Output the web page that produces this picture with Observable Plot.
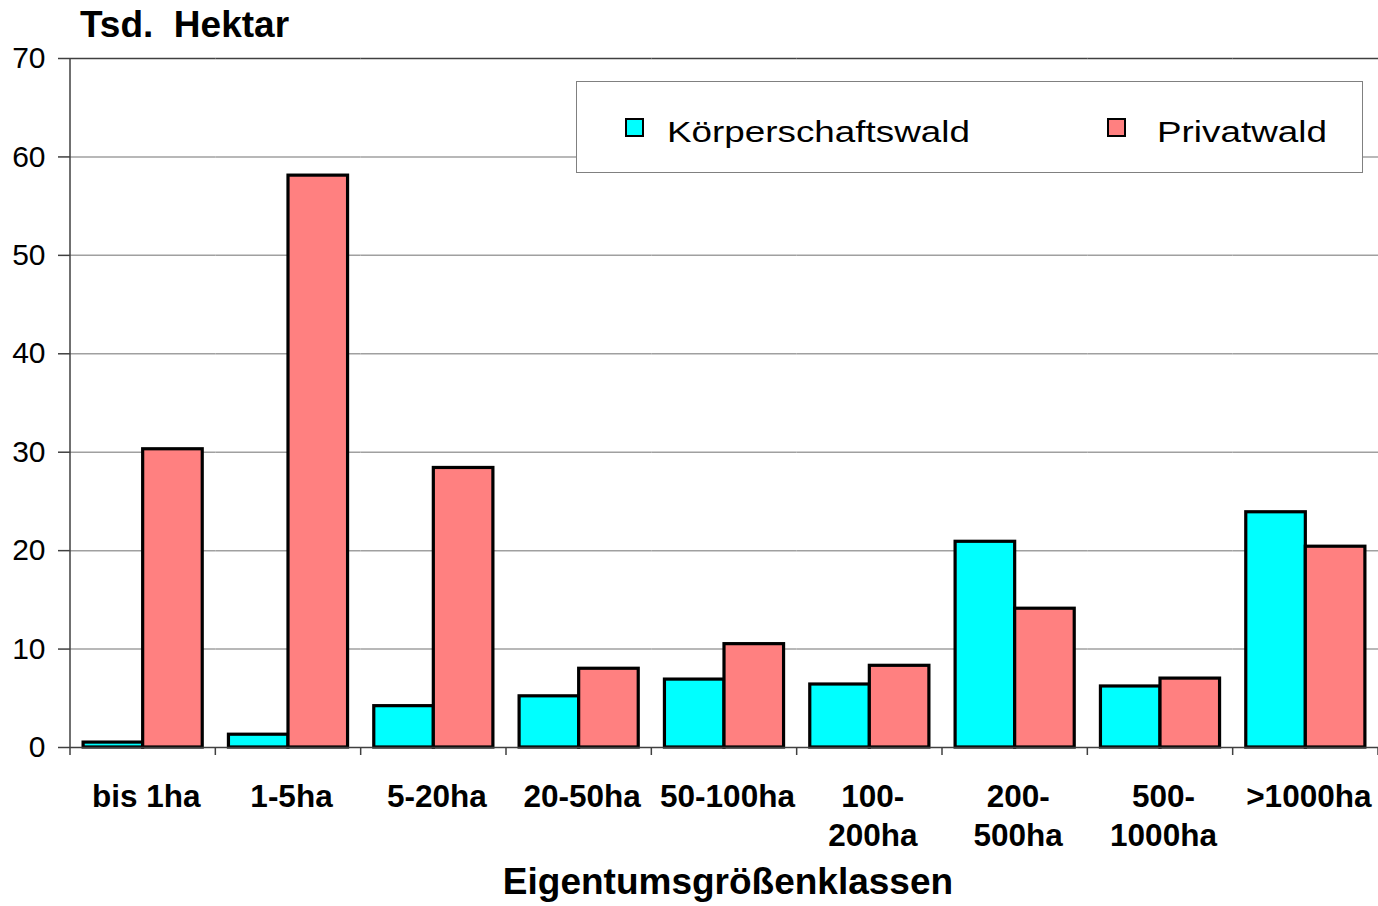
<!DOCTYPE html>
<html>
<head>
<meta charset="utf-8">
<script src="https://cdn.jsdelivr.net/npm/d3@7"></script>
<script src="https://cdn.jsdelivr.net/npm/@observablehq/plot@0.6"></script>
<style>
  html, body { margin: 0; padding: 0; background: white; }
  #wrap { position: relative; width: 1378px; height: 906px; font-family: "Liberation Sans", Arial, sans-serif; color: black; overflow: hidden; }
  #chart { position: absolute; left: 0; top: 0; }
  .abs { position: absolute; line-height: 1; white-space: pre; }
  #title { left: 80px; top: 6px; font-size: 37px; font-weight: bold; }
  #xtitle { left: 0; width: 1456px; text-align: center; top: 863px; font-size: 37px; font-weight: bold; }
  #legend { position: absolute; left: 576px; top: 81px; width: 787px; height: 92px; box-sizing: border-box; border: 1.5px solid #808080; background: white; }
  .sw { position: absolute; width: 19px; height: 19px; box-sizing: border-box; border: 2px solid black; }
  .lt { position: absolute; font-size: 29px; line-height: 1; white-space: pre; transform: scaleX(1.27); transform-origin: left center; }
</style>
</head>
<body>
<div id="wrap">
  <div id="chart"></div>
  <div id="title" class="abs">Tsd.  Hektar</div>
  <div id="xtitle" class="abs">Eigentumsgrößenklassen</div>
  <div id="legend"></div>
</div>
<script>
const categories = ["bis 1ha", "1-5ha", "5-20ha", "20-50ha", "50-100ha", "100-200ha", "200-500ha", "500-1000ha", ">1000ha"];
const tickLabels = ["bis 1ha", "1-5ha", "5-20ha", "20-50ha", "50-100ha", "100-\n200ha", "200-\n500ha", "500-\n1000ha", ">1000ha"];
const series = ["Körperschaftswald", "Privatwald"];
const koerperschaftswald = [0.5, 1.3, 4.2, 5.2, 6.9, 6.4, 20.9, 6.2, 23.9];
const privatwald = [30.3, 58.1, 28.4, 8.0, 10.5, 8.3, 14.1, 7.0, 20.4];
const yTicks = [0, 10, 20, 30, 40, 50, 60, 70];
const colors = ["#00FFFF", "#FF8080"];

const data = [];
categories.forEach((c, i) => {
  data.push({category: c, series: series[0], value: koerperschaftswald[i]});
  data.push({category: c, series: series[1], value: privatwald[i]});
});

const axisColor = "#404040";

const plot = Plot.plot({
  width: 1378,
  height: 906,
  marginTop: 58,
  marginBottom: 159,
  marginLeft: 70,
  marginRight: 0,
  style: {fontFamily: "'Liberation Sans', Arial, sans-serif", fontSize: "29px", background: "transparent", overflow: "visible", color: "black"},
  fx: {domain: categories, padding: 0, round: false, label: null},
  x: {domain: series, paddingInner: 0, paddingOuter: 0.22, round: false, axis: null},
  y: {domain: [0, 70], label: null},
  color: {domain: series, range: colors},
  marks: [
    Plot.ruleY(yTicks.filter(d => d > 0 && d < 70), {stroke: "#a0a0a0", strokeWidth: 1.5}),
    Plot.ruleY([70], {stroke: axisColor, strokeWidth: 1.5}),
    Plot.barY(data, {fx: "category", x: "series", y: "value", fill: "series", stroke: "black", strokeWidth: 3.2}),
    Plot.ruleY([0], {stroke: axisColor, strokeWidth: 1.5}),
    Plot.axisY({ticks: yTicks, tickSize: 12, tickPadding: 13, fontSize: 30, label: null, stroke: axisColor, strokeWidth: 1.5}),
    Plot.axisFx({anchor: "bottom", tickFormat: d => tickLabels[categories.indexOf(d)], tickSize: 0, tickPadding: 31, dx: 3, fontSize: 31.5, fontWeight: "bold", lineHeight: 1.26, label: null})
  ]
});
document.getElementById("chart").appendChild(plot);

// left axis line and category boundary ticks from the scales
const fx = plot.scale("fx");
const ys = plot.scale("y");
const svg = d3.select(plot);
const x0 = fx.apply(categories[0]);
const bounds = categories.map(c => fx.apply(c)).concat([fx.apply(categories[categories.length - 1]) + fx.bandwidth]);
const g = svg.append("g").attr("stroke", axisColor).attr("stroke-width", 1.5);
g.append("line").attr("x1", x0).attr("x2", x0).attr("y1", ys.apply(70)).attr("y2", ys.apply(0));
bounds.forEach(b => {
  g.append("line").attr("x1", b).attr("x2", b).attr("y1", ys.apply(0)).attr("y2", ys.apply(0) + 8);
});

// legend
const legend = document.getElementById("legend");
const swX = [48, 530];
const txX = [90, 580];
series.forEach((s, i) => {
  const sw = document.createElement("div");
  sw.className = "sw";
  sw.style.left = swX[i] + "px";
  sw.style.top = "36px";
  sw.style.background = colors[i];
  legend.appendChild(sw);
  const t = document.createElement("div");
  t.className = "lt";
  t.textContent = s;
  t.style.left = txX[i] + "px";
  t.style.top = "36px";
  legend.appendChild(t);
});
</script>
</body>
</html>
